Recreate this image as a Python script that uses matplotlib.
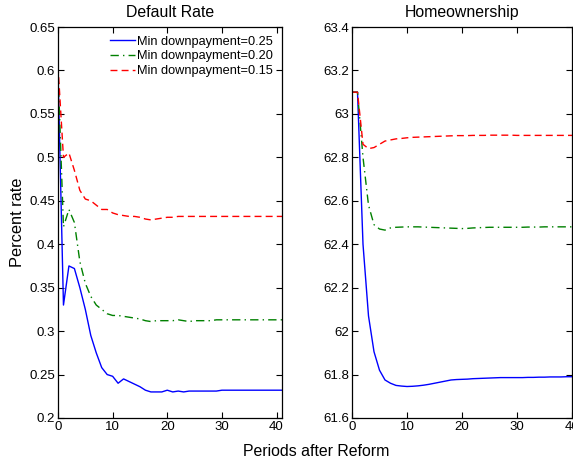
import numpy as np
import matplotlib
matplotlib.use("Agg")
import matplotlib.pyplot as plt

plt.rcParams['font.family'] = ['Liberation Sans', 'DejaVu Sans']

# periods after reform
periods = list(range(0, 42))

# default rate (left panel)
default_025 = [0.600, 0.330, 0.375, 0.372, 0.350, 0.325, 0.295, 0.275, 0.258, 0.250,
               0.248, 0.240, 0.245, 0.242, 0.239, 0.236, 0.232, 0.230, 0.230, 0.230,
               0.232, 0.230, 0.231, 0.230, 0.231, 0.231, 0.231, 0.231, 0.231, 0.231,
               0.232, 0.232, 0.232, 0.232, 0.232, 0.232, 0.232, 0.232, 0.232, 0.232,
               0.232, 0.232]
default_020 = [0.600, 0.420, 0.440, 0.425, 0.380, 0.355, 0.340, 0.330, 0.325, 0.320,
               0.318, 0.318, 0.317, 0.316, 0.315, 0.314, 0.312, 0.311, 0.312, 0.312,
               0.312, 0.312, 0.313, 0.312, 0.311, 0.312, 0.312, 0.312, 0.312, 0.313,
               0.313, 0.313, 0.313, 0.313, 0.313, 0.313, 0.313, 0.313, 0.313, 0.313,
               0.313, 0.313]
default_015 = [0.605, 0.500, 0.505, 0.485, 0.462, 0.452, 0.450, 0.445, 0.440, 0.440,
               0.436, 0.434, 0.433, 0.432, 0.432, 0.431, 0.429, 0.428, 0.429, 0.430,
               0.431, 0.431, 0.432, 0.432, 0.432, 0.432, 0.432, 0.432, 0.432, 0.432,
               0.432, 0.432, 0.432, 0.432, 0.432, 0.432, 0.432, 0.432, 0.432, 0.432,
               0.432, 0.432]

# homeownership (right panel)
home_025 = [63.10, 63.10, 62.40, 62.07, 61.905, 61.82, 61.775, 61.76, 61.75, 61.747,
            61.745, 61.746, 61.748, 61.751, 61.755, 61.76, 61.765, 61.77, 61.775, 61.777,
            61.778, 61.779, 61.781, 61.782, 61.783, 61.784, 61.785, 61.786, 61.786, 61.786,
            61.786, 61.786, 61.787, 61.787, 61.788, 61.788, 61.789, 61.789, 61.789, 61.790,
            61.790]
home_020 = [63.10, 63.10, 62.80, 62.58, 62.49, 62.47, 62.465, 62.475, 62.478, 62.479,
            62.48, 62.48, 62.48, 62.479, 62.478, 62.477, 62.476, 62.475, 62.474, 62.473,
            62.472, 62.473, 62.475, 62.476, 62.477, 62.478, 62.478, 62.478, 62.478, 62.478,
            62.478, 62.478, 62.479, 62.479, 62.479, 62.48, 62.48, 62.48, 62.48, 62.48,
            62.48]
home_015 = [63.10, 63.10, 62.86, 62.84, 62.845, 62.86, 62.875, 62.88, 62.885, 62.887,
            62.89, 62.892, 62.893, 62.894, 62.895, 62.896, 62.897, 62.898, 62.899, 62.9,
            62.9, 62.9, 62.901, 62.901, 62.901, 62.902, 62.902, 62.902, 62.902, 62.902,
            62.901, 62.901, 62.901, 62.901, 62.901, 62.901, 62.901, 62.901, 62.901, 62.901,
            62.901]

labels = ['Min downpayment=0.25', 'Min downpayment=0.20', 'Min downpayment=0.15']

fig = plt.figure(figsize=(5.73, 4.62), dpi=100)
ax1 = fig.add_axes([58 / 573, 44 / 462, 224 / 573, 391 / 462])
ax2 = fig.add_axes([352 / 573, 44 / 462, 220 / 573, 391 / 462])

line_kw = dict(linewidth=1.0)
ax1.plot(periods, default_025, color='#0000ff', linestyle='-', label=labels[0], **line_kw)
ax1.plot(periods, default_020, color='#008000', dashes=(6, 3, 1, 3), label=labels[1], **line_kw)
ax1.plot(periods, default_015, color='#ff0000', dashes=(5, 3), label=labels[2], **line_kw)

p2 = periods[:len(home_025)]
ax2.plot(p2, home_025, color='#0000ff', linestyle='-', **line_kw)
ax2.plot(p2, home_020, color='#008000', dashes=(6, 3, 1, 3), **line_kw)
ax2.plot(p2, home_015, color='#ff0000', dashes=(5, 3), **line_kw)

ax1.set_xlim(0, 41)
ax1.set_ylim(0.2, 0.65)
ax1.set_xticks([0, 10, 20, 30, 40])
ax1.set_yticks(np.arange(0.2, 0.651, 0.05))
ax1.set_yticklabels(['0.2', '0.25', '0.3', '0.35', '0.4', '0.45', '0.5', '0.55', '0.6', '0.65'])
ax1.set_title('Default Rate', fontsize=11.4, pad=7)
ax1.set_ylabel('Percent rate', fontsize=11.8, labelpad=3)

ax2.set_xlim(0, 40)
ax2.set_ylim(61.6, 63.4)
ax2.set_xticks([0, 10, 20, 30, 40])
ax2.set_yticks([61.6, 61.8, 62.0, 62.2, 62.4, 62.6, 62.8, 63.0, 63.2, 63.4])
ax2.set_yticklabels(['61.6', '61.8', '62', '62.2', '62.4', '62.6', '62.8', '63', '63.2', '63.4'])
ax2.set_title('Homeownership', fontsize=11.4, pad=7)

for ax in (ax1, ax2):
    ax.tick_params(direction='in', top=True, right=True, length=4, width=0.8,
                   labelsize=9.5, pad=2)
    for s in ax.spines.values():
        s.set_linewidth(0.9)

ax1.legend(loc='upper right', frameon=False, fontsize=9.2, handlelength=1.9,
           handletextpad=0.2, labelspacing=0.2, borderaxespad=0.3,
           bbox_to_anchor=(1.0, 1.0))

fig.text(316 / 573, 10 / 462, 'Periods after Reform', ha='center', va='center', fontsize=11.4)

fig.savefig('out.png', dpi=100)
